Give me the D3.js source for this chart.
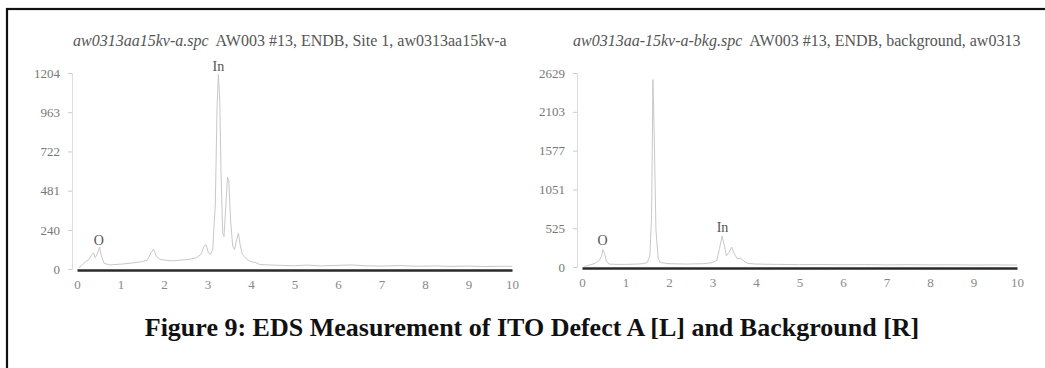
<!DOCTYPE html>
<html>
<head>
<meta charset="utf-8">
<script src="https://cdn.jsdelivr.net/npm/d3@7"></script>
<style>
  body { margin: 0; background: #fff; }
  svg { display: block; font-family: "Liberation Serif", "Times New Roman", serif; }
</style>
</head>
<body>
<div id="app"></div>
<script>
// energy (keV) / counts
const defectSpectrum = [
  [0.05, 10], [0.1, 20], [0.2, 45], [0.28, 60], [0.33, 85], [0.38, 100], [0.42, 70],
  [0.47, 95], [0.52, 135], [0.56, 80], [0.62, 35], [0.75, 25], [0.9, 28], [1.1, 32],
  [1.3, 38], [1.5, 45], [1.62, 55], [1.7, 100], [1.76, 122], [1.82, 80], [1.9, 60],
  [2.0, 55], [2.2, 50], [2.4, 55], [2.6, 60], [2.75, 70], [2.85, 90], [2.92, 140],
  [2.97, 148], [3.02, 100], [3.07, 90], [3.12, 120], [3.18, 400], [3.22, 1000],
  [3.25, 1195], [3.28, 1050], [3.31, 600], [3.35, 220], [3.38, 200], [3.42, 380],
  [3.46, 565], [3.49, 540], [3.53, 300], [3.58, 140], [3.62, 120], [3.67, 180],
  [3.71, 220], [3.75, 150], [3.8, 90], [3.9, 60], [4.0, 45], [4.1, 40], [4.2, 28],
  [4.4, 25], [4.7, 22], [5.0, 20], [5.3, 24], [5.6, 19], [6.0, 22], [6.3, 25],
  [6.6, 20], [7.0, 18], [7.4, 21], [7.8, 17], [8.2, 19], [8.6, 16], [9.0, 18],
  [9.4, 15], [9.8, 17], [10.0, 16]
]
const bkgSpectrum = [
  [0.05, 8], [0.1, 15], [0.2, 30], [0.3, 50], [0.35, 70], [0.4, 90], [0.45, 150],
  [0.48, 235], [0.52, 180], [0.56, 80], [0.62, 40], [0.8, 35], [1.0, 35], [1.2, 38],
  [1.4, 45], [1.5, 60], [1.56, 150], [1.6, 700], [1.63, 2540], [1.66, 1800],
  [1.7, 500], [1.75, 120], [1.8, 60], [2.0, 45], [2.4, 40], [2.8, 45], [3.0, 60],
  [3.1, 90], [3.16, 250], [3.22, 420], [3.27, 300], [3.32, 150], [3.38, 200],
  [3.44, 270], [3.5, 180], [3.57, 110], [3.65, 120], [3.72, 80], [3.8, 50],
  [4.0, 40], [4.5, 35], [5.0, 32], [5.5, 34], [6.0, 30], [6.5, 33], [7.0, 29],
  [7.5, 31], [8.0, 28], [8.5, 30], [9.0, 27], [9.5, 29], [10.0, 26]
]

const xTicks = [0, 1, 2, 3, 4, 5, 6, 7, 8, 9, 10]
const defectYTicks = [0, 240, 481, 722, 963, 1204]
const bkgYTicks = [0, 525, 1051, 1577, 2103, 2629]

const defectPeaks = [
  { name: 'O', kev: 0.5, counts: 150 },
  { name: 'In', kev: 3.25, counts: 1215 },
]
const bkgPeaks = [
  { name: 'O', kev: 0.47, counts: 300 },
  { name: 'In', kev: 3.23, counts: 480 },
]

const defectTitle = ['aw0313aa15kv-a.spc', 'AW003 #13, ENDB, Site 1, aw0313aa15kv-a']
const bkgTitle = ['aw0313aa-15kv-a-bkg.spc', 'AW003 #13, ENDB, background, aw0313']
const caption = 'Figure 9: EDS Measurement of ITO Defect A [L] and Background [R]'

const width = 1045
const height = 368

const svg = d3.select('#app').append('svg')
  .attr('width', width)
  .attr('height', height)
  .attr('viewBox', `0 0 ${width} ${height}`)

svg.append('rect').attr('width', width).attr('height', height).attr('fill', '#fff')

// outer frame (right and bottom run off the picture)
svg.append('rect')
  .attr('x', 7).attr('y', 9)
  .attr('width', 1060).attr('height', 400)
  .attr('fill', 'none')
  .attr('stroke', '#111')
  .attr('stroke-width', 2.2)

function drawSpectrum(opt) {
  const { data, yTicks, peaks, title, left, right, bottom, top, titleX } = opt
  const x = d3.scaleLinear().domain([0, 10]).range([left, right])
  const y = d3.scaleLinear().domain([0, yTicks[yTicks.length - 1]]).range([bottom, top])
  const g = svg.append('g')

  // title
  const t = g.append('text')
    .attr('x', titleX).attr('y', 46)
    .attr('font-size', 16)
    .attr('fill', '#555')
  t.append('tspan').attr('font-style', 'italic').text(title[0])
  t.append('tspan').attr('dx', 7).text(title[1])

  // faint y axis
  const yAxis = g.append('g')
    .attr('transform', `translate(${left - 5},0)`)
    .call(d3.axisLeft(y).tickValues(yTicks).tickSize(4).tickPadding(8).tickFormat(d3.format('d')))
  yAxis.select('.domain').attr('stroke', '#ddd')
  yAxis.selectAll('.tick line').attr('stroke', '#ccc')
  yAxis.selectAll('.tick text')
    .attr('font-family', '"Liberation Serif", serif')
    .attr('font-size', 13)
    .attr('fill', '#777')

  // spectrum trace
  const line = d3.line().x((d) => x(d[0])).y((d) => y(d[1]))
  g.append('path')
    .datum(data)
    .attr('d', line)
    .attr('fill', 'none')
    .attr('stroke', '#c8c8c8')
    .attr('stroke-width', 1)

  // heavy x baseline with labels
  const xAxis = g.append('g')
    .attr('transform', `translate(0,${bottom + 1})`)
    .call(d3.axisBottom(x).tickValues(xTicks).tickSize(0).tickPadding(10))
  xAxis.select('.domain').attr('stroke', '#2a2a2a').attr('stroke-width', 2.6)
  xAxis.selectAll('.tick text')
    .attr('font-family', '"Liberation Serif", serif')
    .attr('font-size', 13)
    .attr('fill', '#888')

  // element labels
  g.selectAll('.peak')
    .data(peaks)
    .join('text')
    .attr('class', 'peak')
    .attr('x', (d) => x(d.kev))
    .attr('y', (d) => y(d.counts))
    .attr('text-anchor', 'middle')
    .attr('font-size', 14)
    .attr('fill', '#555')
    .text((d) => d.name)
}

drawSpectrum({
  data: defectSpectrum, yTicks: defectYTicks, peaks: defectPeaks, title: defectTitle,
  left: 77, right: 512, bottom: 269, top: 73, titleX: 73,
})
drawSpectrum({
  data: bkgSpectrum, yTicks: bkgYTicks, peaks: bkgPeaks, title: bkgTitle,
  left: 582, right: 1017, bottom: 267, top: 73, titleX: 573,
})

svg.append('text')
  .attr('x', 532).attr('y', 336)
  .attr('text-anchor', 'middle')
  .attr('font-size', 26)
  .attr('font-weight', 'bold')
  .attr('fill', '#111')
  .text(caption)
</script>
</body>
</html>
